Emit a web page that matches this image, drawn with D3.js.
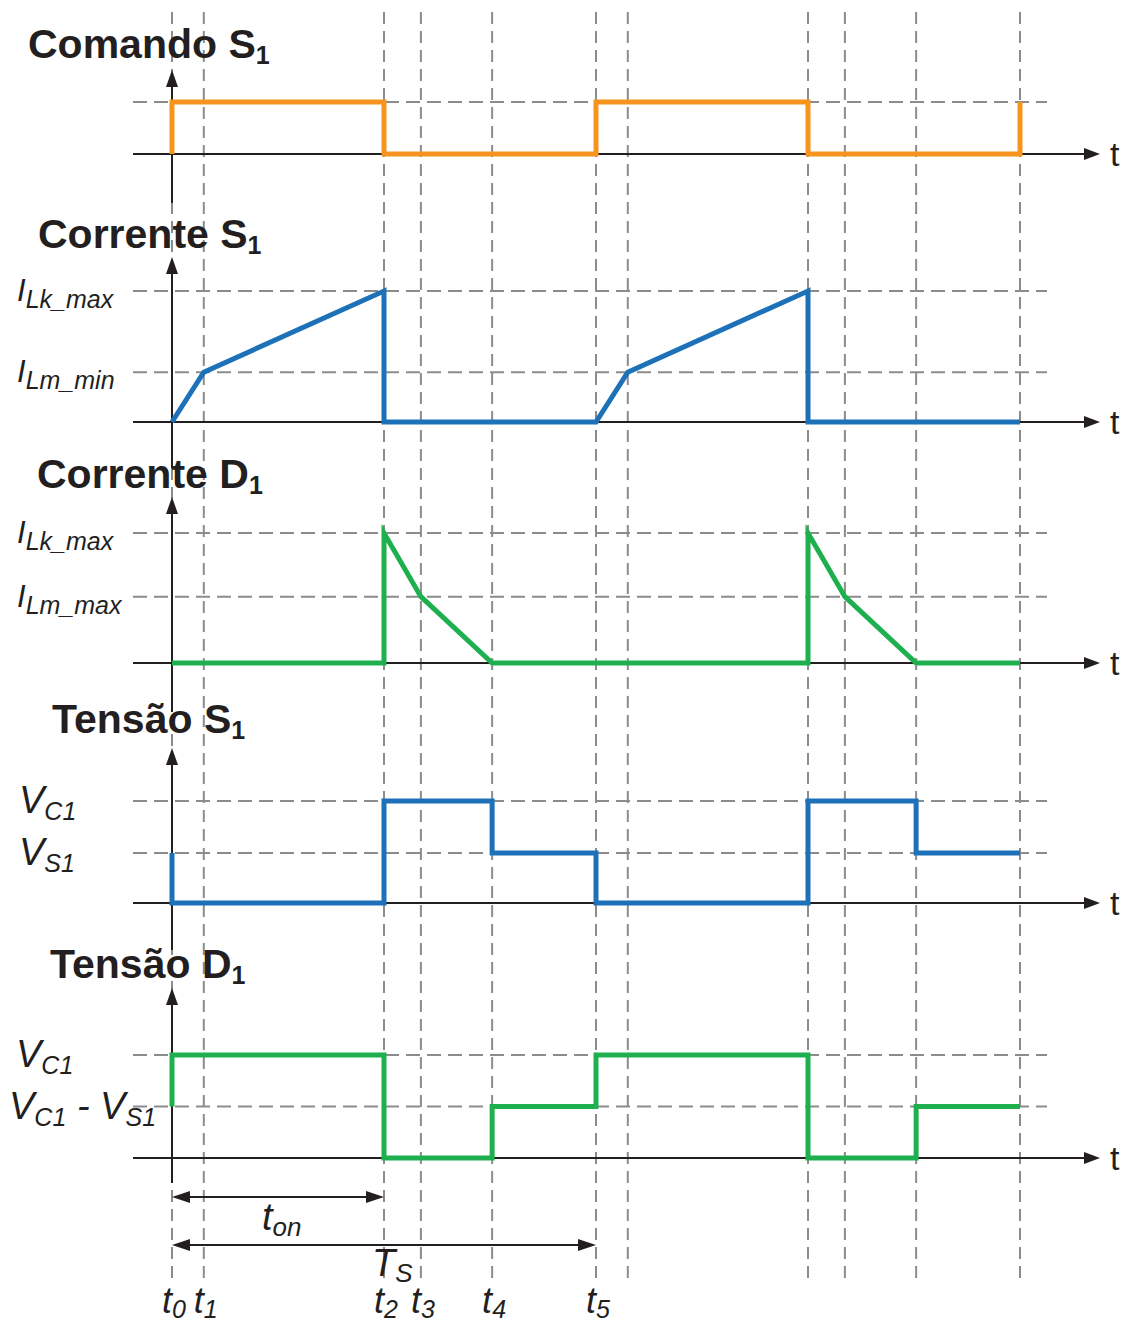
<!DOCTYPE html>
<html>
<head>
<meta charset="utf-8">
<script src="https://cdn.jsdelivr.net/npm/d3@7"></script>
<style>
  body { margin: 0; background: #fff; }
  svg text { font-family: "Liberation Sans", Arial, Helvetica, sans-serif; fill: #231f20; }
</style>
</head>
<body>
<script>
// time instants (in units of Ts) where the grid lines sit
const gridTimes = [0, 0.075, 0.5, 0.587, 0.755, 1, 1.075, 1.5, 1.587, 1.755, 2];
const timeNames = ["0", "1", "2", "3", "4", "5"];

// waveforms, [t, level] with level normalised to the panel's top level
const cmdS1 = [[0,0],[0,1],[0.5,1],[0.5,0],[1,0],[1,1],[1.5,1],[1.5,0],[2,0],[2,1]];
const iS1 = [[0,0],[0.075,0.38],[0.5,1],[0.5,0],[1,0],[1.075,0.38],[1.5,1],[1.5,0],[2,0]];
const iD1 = [[0,0],[0.5,0],[0.5,1],[0.587,0.51],[0.755,0],[1.5,0],[1.5,1],[1.587,0.51],[1.755,0],[2,0]];
const vS1 = [[0,0.49],[0,0],[0.5,0],[0.5,1],[0.755,1],[0.755,0.49],[1,0.49],[1,0],[1.5,0],[1.5,1],[1.755,1],[1.755,0.49],[2,0.49]];
const vD1 = [[0,0.5],[0,1],[0.5,1],[0.5,0],[0.755,0],[0.755,0.5],[1,0.5],[1,1],[1.5,1],[1.5,0],[1.755,0],[1.755,0.5],[2,0.5]];

// panel titles, dashed levels and level labels
const titles = [["Comando S", "1"], ["Corrente S", "1"], ["Corrente D", "1"], ["Tensão S", "1"], ["Tensão D", "1"]];
const levels = [[1], [1, 0.38], [1, 0.51], [1, 0.49], [1, 0.5]];
const levelLabels = [
  [],
  [[["I", "main"], ["Lk_max", "sub"]], [["I", "main"], ["Lm_min", "sub"]]],
  [[["I", "main"], ["Lk_max", "sub"]], [["I", "main"], ["Lm_max", "sub"]]],
  [[["V", "main"], ["C1", "sub"]], [["V", "main"], ["S1", "sub"]]],
  [[["V", "main"], ["C1", "sub"]], [["V", "main"], ["C1", "sub"], [" - ", "main"], ["V", "main"], ["S1", "sub"]]]
];
const waves = [cmdS1, iS1, iD1, vS1, vD1];

// layout (pixels)
const panels = [
  { base: 154, top: 102, tip: 70, tx: 28, ty: 58, color: "#f7941d", mainSize: 28, axisEnd: 203 },
  { base: 422, top: 291, tip: 257, tx: 38, ty: 248, color: "#1c71b8", mainSize: 31, axisEnd: 468 },
  { base: 663, top: 533, tip: 497, tx: 37, ty: 488, color: "#1eb04f", mainSize: 31, axisEnd: 712 },
  { base: 903, top: 801, tip: 748, tx: 52, ty: 733, color: "#1c71b8", mainSize: 38, axisEnd: 950 },
  { base: 1158, top: 1055, tip: 988, tx: 50, ty: 978, color: "#1eb04f", mainSize: 38, axisEnd: 1183 }
];
const labelX = [[], [17, 17], [17, 17], [19, 19], [16, 9]];

const W = 1125, H = 1327;
const svg = d3.select("body").append("svg").attr("width", W).attr("height", H);

const x = d3.scaleLinear().domain([0, 2]).range([172, 1020]);
const axisColor = "#231f20";
const gridColor = "#8c8c8c";

// vertical dashed grid lines
svg.append("g").selectAll("line")
  .data(gridTimes)
  .enter().append("line")
    .attr("x1", d => x(d)).attr("x2", d => x(d))
    .attr("y1", 12).attr("y2", 1278)
    .attr("stroke", gridColor)
    .attr("stroke-width", 2)
    .attr("stroke-dasharray", "12,7");

function arrowHead(g, tx, ty, dir, len, half) {
  // dir: "up", "right", "left"
  let pts;
  if (dir == "up") pts = [[tx, ty], [tx - half, ty + len], [tx + half, ty + len]];
  else if (dir == "right") pts = [[tx, ty], [tx - len, ty - half], [tx - len, ty + half]];
  else pts = [[tx, ty], [tx + len, ty - half], [tx + len, ty + half]];
  g.append("path").attr("d", d3.line()(pts) + "Z").attr("fill", axisColor);
}

const line = d3.line();

panels.forEach((p, i) => {
  const y = d3.scaleLinear().domain([0, 1]).range([p.base, p.top]);
  const g = svg.append("g");

  // horizontal dashed levels
  g.selectAll(".lvl")
    .data(levels[i])
    .enter().append("line")
      .attr("x1", 133).attr("x2", 1047)
      .attr("y1", d => y(d)).attr("y2", d => y(d))
      .attr("stroke", gridColor)
      .attr("stroke-width", 2)
      .attr("stroke-dasharray", "14,7");

  // time axis
  g.append("line")
    .attr("x1", 133).attr("x2", 1088)
    .attr("y1", p.base).attr("y2", p.base)
    .attr("stroke", axisColor).attr("stroke-width", 2);
  arrowHead(g, 1100, p.base, "right", 16, 6);
  g.append("text")
    .attr("x", 1110).attr("y", p.base + 12)
    .style("font-size", "34px")
    .text("t");

  // vertical axis
  g.append("line")
    .attr("x1", x(0)).attr("x2", x(0))
    .attr("y1", p.tip + 10).attr("y2", p.axisEnd)
    .attr("stroke", axisColor).attr("stroke-width", 2);
  arrowHead(g, x(0), p.tip, "up", 17, 6);

  // waveform
  g.append("path")
    .attr("d", line(waves[i].map(d => [x(d[0]), y(d[1])])))
    .attr("fill", "none")
    .attr("stroke", p.color)
    .attr("stroke-width", 5)
    .attr("stroke-linejoin", "miter");

  // title
  const t = g.append("text")
    .attr("x", p.tx).attr("y", p.ty)
    .style("font-size", "41px")
    .style("font-weight", "bold");
  t.append("tspan").text(titles[i][0]);
  t.append("tspan").attr("dy", 6).style("font-size", "25px").text(titles[i][1]);

  // level labels
  levelLabels[i].forEach((parts, j) => {
    const lt = g.append("text")
      .attr("x", labelX[i][j])
      .attr("y", y(levels[i][j]) + (p.mainSize > 32 ? 12 : 10))
      .style("font-style", "italic");
    let lowered = false;
    parts.forEach(pp => {
      const span = lt.append("tspan").text(pp[0]);
      if (pp[1] == "sub") {
        span.style("font-size", "25px");
        if (!lowered) { span.attr("dy", 7); lowered = true; }
      } else {
        span.style("font-size", p.mainSize + "px");
        if (lowered) { span.attr("dy", -7); lowered = false; }
      }
    });
  });
});

// ton and Ts dimension arrows
const dims = [[0, 0.5, 1197, "t", "on", 262, 1230], [0, 1, 1245, "T", "S", 372, 1276]];
dims.forEach(d => {
  const g = svg.append("g");
  g.append("line")
    .attr("x1", x(d[0]) + 10).attr("x2", x(d[1]) - 10)
    .attr("y1", d[2]).attr("y2", d[2])
    .attr("stroke", axisColor).attr("stroke-width", 2);
  arrowHead(g, x(d[0]), d[2], "left", 18, 6);
  arrowHead(g, x(d[1]), d[2], "right", 18, 6);
  const t = g.append("text")
    .attr("x", d[5]).attr("y", d[6])
    .style("font-style", "italic")
    .style("font-size", "38px");
  t.append("tspan").text(d[3]);
  t.append("tspan").attr("dy", 6).style("font-size", "26px").text(d[4]);
});

// time instant labels
svg.append("g").selectAll("text")
  .data(timeNames)
  .enter().append("text")
    .attr("x", (d, i) => x(gridTimes[i]) - 10)
    .attr("y", 1313)
    .style("font-style", "italic")
    .style("font-size", "36px")
    .each(function(d) {
      const t = d3.select(this);
      t.append("tspan").text("t");
      t.append("tspan").attr("dy", 5).style("font-size", "25px").text(d);
    });
</script>
</body>
</html>
